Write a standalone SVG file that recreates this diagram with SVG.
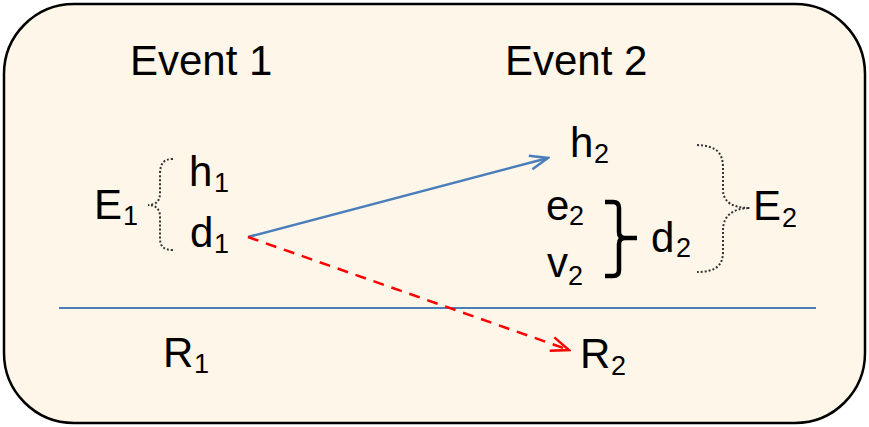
<svg xmlns="http://www.w3.org/2000/svg" width="869" height="427" viewBox="0 0 869 427">
<defs>
<style>
text{font-family:"Liberation Sans",Arial,sans-serif;fill:#000;}
.m{font-size:42px;}
.s{font-size:27px;}
.dot{fill:none;stroke:#333;stroke-width:2;stroke-dasharray:2 2;}
</style>
<marker id="ahb" viewBox="0 0 22 18" refX="20" refY="9" markerWidth="22" markerHeight="18" markerUnits="userSpaceOnUse" orient="auto"><path d="M2,2 L20,9 L2,16" fill="none" stroke="#4A7EBB" stroke-width="2.5"/></marker>
<marker id="ahr" viewBox="0 0 22 18" refX="20" refY="9" markerWidth="22" markerHeight="18" markerUnits="userSpaceOnUse" orient="auto"><path d="M2,2 L20,9 L2,16" fill="none" stroke="#FF0000" stroke-width="2.5"/></marker>
</defs>
<rect width="869" height="427" fill="#FFFFFF"/>
<rect id="frame" x="4" y="4" width="861" height="419" rx="70" ry="70" fill="#FEF6E9" stroke="#000" stroke-width="2.5"/>
<g id="headers">
<text class="m" x="130" y="75">Event 1</text>
<text class="m" x="505" y="75">Event 2</text>
</g>
<g id="E1"><text class="m" x="94" y="219">E</text><text class="s" x="123" y="225">1</text></g>
<g id="h1"><text class="m" x="189" y="186">h</text><text class="s" x="214" y="192">1</text></g>
<g id="d1"><text class="m" x="190" y="247">d</text><text class="s" x="214" y="253">1</text></g>
<g id="h2"><text class="m" x="570" y="157">h</text><text class="s" x="594" y="163">2</text></g>
<g id="e2"><text class="m" x="546" y="220">e</text><text class="s" x="569" y="225">2</text></g>
<g id="v2"><text class="m" x="547" y="277">v</text><text class="s" x="568" y="285">2</text></g>
<g id="d2"><text class="m" x="651" y="252">d</text><text class="s" x="676" y="257">2</text></g>
<g id="E2"><text class="m" x="753" y="220">E</text><text class="s" x="782" y="227">2</text></g>
<g id="R1"><text class="m" x="163" y="367">R</text><text class="s" x="194" y="373">1</text></g>
<g id="R2"><text class="m" x="580" y="368">R</text><text class="s" x="611" y="375">2</text></g>
<g id="braces">
<path class="dot" d="M173,159 C163,159 160,164 160,175 L160,193 C160,201 156,205 148,205 C156,205 160,209 160,217 L160,238 C160,247 164,250 173,250"/>
<path class="dot" d="M697,145 C716,146 723,152 723,168 L723,190 C723,202 733,208 750,208 C733,208 723,216 723,230 L723,252 C723,266 715,272 697,272"/>
<path d="M605,202 L613,202 Q619,202 619,208 L619,232 Q619,238 625,238 L637,238 M625,238 Q619,238 619,244 L619,270 Q619,276 613,276 L605,276" fill="none" stroke="#000" stroke-width="4.5"/>
</g>
<g id="connectors">
<line x1="59" y1="308" x2="816" y2="308" stroke="#4A7EBB" stroke-width="2"/>
<line x1="248" y1="237" x2="548" y2="158" stroke="#4A7EBB" stroke-width="2.5" marker-end="url(#ahb)"/>
<line x1="248" y1="237" x2="569" y2="350" stroke="#FF0000" stroke-width="2.5" stroke-dasharray="11 8" marker-end="url(#ahr)"/>
</g>
</svg>
